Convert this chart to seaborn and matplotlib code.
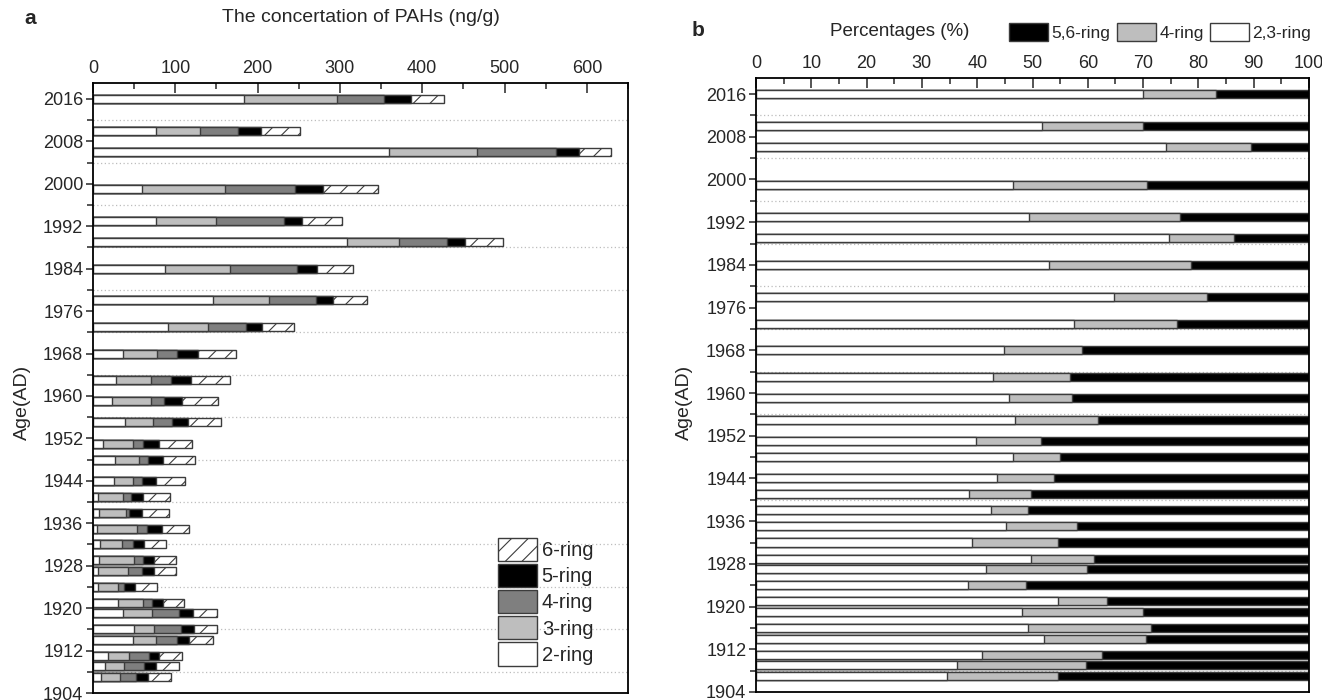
import numpy as np
import pandas as pd
import matplotlib
matplotlib.use("Agg")
import matplotlib.pyplot as plt
import seaborn as sns
from matplotlib.patches import Patch
from matplotlib.ticker import MultipleLocator, FixedLocator

# sediment core ages (AD), one bar per sample
years = [2016, 2010, 2006, 1999, 1993, 1989, 1984, 1978, 1973, 1968,
         1963, 1959, 1955, 1951, 1948, 1944, 1941, 1938, 1935, 1932,
         1929, 1927, 1924, 1921, 1919, 1916, 1914, 1911, 1909, 1907]

# panel a: concentrations (ng/g) per ring class
ring2 = [184, 76, 360, 60, 76, 309, 88, 146, 91, 37, 28, 23, 39, 12, 27,
         25, 6, 7, 5, 9, 7, 6, 6, 30, 37, 50, 49, 18, 14, 10]
ring3 = [113, 54, 106, 100, 73, 63, 79, 68, 49, 41, 43, 47, 34, 36, 29,
         24, 30, 33, 48, 26, 43, 36, 24, 31, 35, 24, 27, 26, 24, 23]
ring4 = [57, 46, 96, 85, 83, 58, 81, 57, 46, 24, 24, 16, 23, 13, 11,
         10, 10, 4, 13, 14, 11, 18, 8, 11, 32, 33, 26, 24, 24, 19]
ring5 = [32, 28, 28, 35, 22, 22, 24, 20, 19, 25, 24, 22, 20, 19, 18,
         17, 15, 16, 18, 13, 13, 14, 13, 13, 17, 16, 15, 12, 14, 15]
ring6 = [41, 47, 39, 66, 49, 46, 44, 42, 39, 47, 47, 44, 40, 40, 39,
         36, 32, 32, 33, 27, 27, 27, 27, 26, 30, 28, 29, 28, 29, 28]

# panel b: percentages (%)
pct23 = [70.0, 51.7, 74.1, 46.4, 49.4, 74.7, 53.0, 64.8, 57.5, 44.9,
         42.9, 45.8, 46.9, 39.7, 46.4, 43.6, 38.5, 42.5, 45.2, 39.1,
         49.7, 41.6, 38.4, 54.6, 48.1, 49.2, 52.0, 40.9, 36.4, 34.5]
pct4 = [13.1, 18.2, 15.4, 24.3, 27.3, 11.8, 25.6, 16.8, 18.7, 14.0,
        13.9, 11.3, 15.0, 11.8, 8.6, 10.2, 11.2, 6.6, 12.8, 15.5,
        11.5, 18.3, 10.5, 8.9, 21.8, 22.2, 18.5, 21.6, 23.3, 20.1]
pct56 = [16.9, 30.1, 10.5, 29.3, 23.3, 13.5, 21.4, 18.4, 23.8, 41.1,
         43.2, 42.9, 38.1, 48.5, 45.0, 46.2, 50.3, 50.9, 42.0, 45.4,
         38.8, 40.1, 51.1, 36.5, 30.1, 28.6, 29.5, 37.5, 40.3, 45.4]

sns.set_style("ticks")
plt.rcParams["font.family"] = ["Liberation Sans", "DejaVu Sans"]
plt.rcParams["hatch.linewidth"] = 0.8
plt.rcParams["hatch.color"] = "#333333"

EDGE = "#3c3c3c"
W, H = 1322, 700
fig = plt.figure(figsize=(W / 100, H / 100), dpi=100)


def box(l, t, r, b):
    return [l / W, 1 - b / H, (r - l) / W, (b - t) / H]


ax_a = fig.add_axes(box(93, 83, 628, 693))
ax_b = fig.add_axes(box(756, 78, 1309, 692))

# ---- panel a: stacked by drawing cumulative totals, outermost first
conc = pd.DataFrame({"year": years, "2-ring": ring2, "3-ring": ring3,
                     "4-ring": ring4, "5-ring": ring5, "6-ring": ring6})
rings = ["2-ring", "3-ring", "4-ring", "5-ring", "6-ring"]
cum_a = conc[rings].cumsum(axis=1)
style_a = {"6-ring": ("white", "//"), "5-ring": ("black", None),
           "4-ring": ("#7f7f7f", None), "3-ring": ("#bebebe", None),
           "2-ring": ("white", None)}
for name in rings[::-1]:
    col, hatch = style_a[name]
    sns.barplot(x=cum_a[name], y=conc["year"], orient="y", native_scale=True,
                color=col, saturation=1, edgecolor=EDGE, linewidth=1,
                hatch=hatch, width=0.75, errorbar=None, ax=ax_a)

# ---- panel b
pct = pd.DataFrame({"year": years, "2,3-ring": pct23, "4-ring": pct4,
                    "5,6-ring": pct56})
groups = ["2,3-ring", "4-ring", "5,6-ring"]
cum_b = pct[groups].cumsum(axis=1)
style_b = {"5,6-ring": "black", "4-ring": "#bebebe", "2,3-ring": "white"}
for name in groups[::-1]:
    sns.barplot(x=cum_b[name], y=pct["year"], orient="y", native_scale=True,
                color=style_b[name], saturation=1, edgecolor=EDGE, linewidth=1,
                width=0.75, errorbar=None, ax=ax_b)

for ax, xmax, maj, mnr in [(ax_a, 650, 100, 50), (ax_b, 100, 10, 5)]:
    ax.set_xlim(0, xmax)
    ax.set_ylim(1904, 2019)
    ax.xaxis.tick_top()
    ax.xaxis.set_major_locator(MultipleLocator(maj))
    ax.xaxis.set_minor_locator(MultipleLocator(mnr))
    ax.yaxis.set_major_locator(FixedLocator(range(1904, 2017, 8)))
    ax.yaxis.set_minor_locator(FixedLocator(range(1908, 2017, 8)))
    ax.tick_params(axis="x", which="both", direction="in", top=True,
                   bottom=False, labeltop=True, labelbottom=False,
                   labelsize=13, pad=4, width=1.1)
    ax.tick_params(axis="x", which="major", length=7)
    ax.tick_params(axis="x", which="minor", length=4)
    ax.tick_params(axis="y", which="both", direction="out", labelsize=13,
                   width=1.1, pad=2)
    ax.tick_params(axis="y", which="major", length=5)
    ax.tick_params(axis="y", which="minor", length=4)
    ax.grid(axis="y", which="minor", linestyle=(0, (1, 2)), color="#bdbdbd",
            linewidth=0.9)
    ax.set_axisbelow(True)
    for s in ax.spines.values():
        s.set_linewidth(1.3)
        s.set_color("black")
    ax.set_xlabel("")
    ax.set_ylabel("Age(AD)", fontsize=14)

ax_a.yaxis.set_label_coords((31 - 93) / 535, (693 - 402) / 610)
ax_b.yaxis.set_label_coords((693 - 756) / 553, (692 - 402) / 614)

# legend a
handles_a = [Patch(facecolor=style_a[n][0], edgecolor=EDGE, hatch=style_a[n][1],
                   label=n) for n in rings[::-1]]
ax_a.legend(handles=handles_a, loc="lower right", bbox_to_anchor=(0.935, 0.045),
            frameon=False, fontsize=14.5, handlelength=1.9, handleheight=1.4,
            handletextpad=0.25, labelspacing=0.14, borderaxespad=0, borderpad=0)

# legend b, across the top
handles_b = [Patch(facecolor=style_b[n], edgecolor=EDGE, label=n)
             for n in groups[::-1]]
fig.legend(handles=handles_b, loc="center right",
           bbox_to_anchor=(1311 / W, 1 - 32 / H), ncol=3, frameon=False,
           fontsize=12.5, handlelength=2.25, handleheight=1.3, handletextpad=0.2,
           columnspacing=0.35, borderpad=0, borderaxespad=0)

fig.text(361 / W, 1 - 18 / H, "The concertation of PAHs (ng/g)",
         ha="center", va="center", fontsize=14)
fig.text(900 / W, 1 - 32 / H, "Percentages (%)", ha="center", va="center",
         fontsize=13.5)
fig.text(30 / W, 1 - 19 / H, "a", ha="center", va="center", fontsize=15,
         fontweight="bold")
fig.text(698 / W, 1 - 30 / H, "b", ha="center", va="center", fontsize=15,
         fontweight="bold")

fig.savefig("out.png", dpi=100)
